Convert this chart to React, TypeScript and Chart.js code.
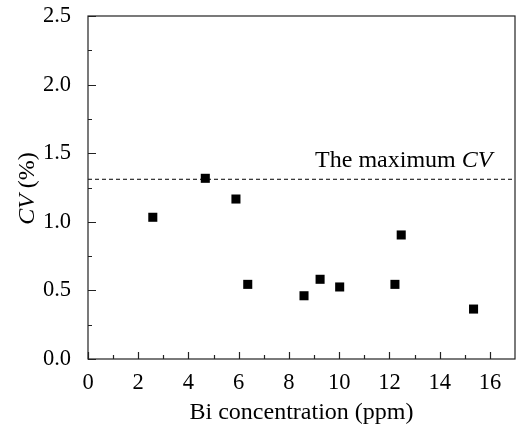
import React, { useEffect, useRef } from 'react';
import { Chart, registerables } from 'chart.js';
Chart.register(...registerables);

const concentration = [2.58, 4.67, 5.89, 6.36, 8.6, 9.24, 10.02, 12.22, 12.47, 15.35];
const cvValues = [1.033, 1.317, 1.166, 0.544, 0.461, 0.581, 0.525, 0.544, 0.904, 0.364];
const maxCV = 1.31;
const xRange = [0, 17];
const yRange = [0, 2.5];
const xTicks = [0, 2, 4, 6, 8, 10, 12, 14, 16];
const xMinorTicks = [1, 3, 5, 7, 9, 11, 13, 15];
const yTicks = [0, 0.5, 1.0, 1.5, 2.0, 2.5];
const yMinorTicks = [0.25, 0.75, 1.25, 1.75, 2.25];
const xTitle = 'Bi concentration (ppm)';
const yTitleItalic = 'CV';
const yTitleRest = ' (%)';
const noteText = 'The maximum ';
const noteItalic = 'CV';

const FONT = 'Liberation Serif';
const TICK_SIZE = 22.5;
const TITLE_SIZE = 24;

const decorPlugin = {
  id: 'decor',
  afterDraw(chart: any) {
    const { ctx, chartArea } = chart;
    const { left, right, top, bottom } = chartArea;
    const xs = chart.scales.x;
    const ys = chart.scales.y;
    ctx.save();
    ctx.strokeStyle = '#222';
    ctx.lineWidth = 1.2;
    ctx.strokeRect(left, top, right - left, bottom - top);
    ctx.beginPath();
    xTicks.forEach((v) => {
      const px = Math.round(xs.getPixelForValue(v)) + 0.5;
      ctx.moveTo(px, bottom);
      ctx.lineTo(px, bottom - 7);
    });
    xMinorTicks.forEach((v) => {
      const px = Math.round(xs.getPixelForValue(v)) + 0.5;
      ctx.moveTo(px, bottom);
      ctx.lineTo(px, bottom - 4);
    });
    yTicks.forEach((v) => {
      const py = Math.round(ys.getPixelForValue(v)) + 0.5;
      ctx.moveTo(left, py);
      ctx.lineTo(left + 8, py);
    });
    yMinorTicks.forEach((v) => {
      const py = Math.round(ys.getPixelForValue(v)) + 0.5;
      ctx.moveTo(left, py);
      ctx.lineTo(left + 4, py);
    });
    ctx.stroke();

    ctx.fillStyle = '#000';
    // x title
    ctx.font = `${TITLE_SIZE}px "${FONT}"`;
    ctx.textAlign = 'center';
    ctx.textBaseline = 'alphabetic';
    ctx.fillText(xTitle, (left + right) / 2, 419);

    // y title
    ctx.save();
    ctx.translate(34, (top + bottom) / 2 + 1);
    ctx.rotate(-Math.PI / 2);
    ctx.font = `italic ${TITLE_SIZE}px "${FONT}"`;
    const wi = ctx.measureText(yTitleItalic).width;
    ctx.font = `${TITLE_SIZE}px "${FONT}"`;
    const wr = ctx.measureText(yTitleRest).width;
    const start = -(wi + wr) / 2;
    ctx.textAlign = 'left';
    ctx.font = `italic ${TITLE_SIZE}px "${FONT}"`;
    ctx.fillText(yTitleItalic, start, 0);
    ctx.font = `${TITLE_SIZE}px "${FONT}"`;
    ctx.fillText(yTitleRest, start + wi, 0);
    ctx.restore();

    // note
    const noteRight = xs.getPixelForValue(16.1);
    const noteY = ys.getPixelForValue(maxCV) - 12;
    ctx.font = `italic ${TITLE_SIZE}px "${FONT}"`;
    const ni = ctx.measureText(noteItalic).width;
    ctx.font = `${TITLE_SIZE}px "${FONT}"`;
    const nt = ctx.measureText(noteText).width;
    ctx.textAlign = 'left';
    ctx.fillText(noteText, noteRight - ni - nt, noteY);
    ctx.font = `italic ${TITLE_SIZE}px "${FONT}"`;
    ctx.fillText(noteItalic, noteRight - ni, noteY);
    ctx.restore();
  },
};

export default function App() {
  const ref = useRef<HTMLCanvasElement>(null);
  useEffect(() => {
    if (!ref.current) return;
    const chart = new Chart(ref.current, {
      type: 'scatter',
      data: {
        datasets: [
          {
            type: 'line',
            data: [
              { x: xRange[0], y: maxCV },
              { x: xRange[1], y: maxCV },
            ],
            borderColor: '#000',
            borderWidth: 1,
            borderDash: [4, 3],
            pointRadius: 0,
            fill: false,
          } as any,
          {
            data: concentration.map((x, i) => ({ x, y: cvValues[i] })),
            pointStyle: 'rect',
            pointRadius: 6.4,
            backgroundColor: '#000',
            borderWidth: 0,
          },
        ],
      },
      options: {
        responsive: false,
        animation: false,
        layout: { autoPadding: false, padding: { top: 16, right: 1, left: 0, bottom: 0 } },
        plugins: { legend: { display: false }, tooltip: { enabled: false } },
        scales: {
          x: {
            type: 'linear',
            min: xRange[0],
            max: xRange[1],
            grid: { display: false },
            border: { display: false },
            afterBuildTicks: (s: any) => {
              s.ticks = xTicks.map((v) => ({ value: v }));
            },
            afterFit: (s: any) => {
              s.height = 70;
              s.paddingLeft = 0;
              s.paddingRight = 0;
            },
            ticks: {
              font: { family: FONT, size: TICK_SIZE },
              color: '#000',
              padding: 3,
              maxRotation: 0,
              autoSkip: false,
              callback: (v: any) => String(v),
            },
          },
          y: {
            type: 'linear',
            min: yRange[0],
            max: yRange[1],
            grid: { display: false },
            border: { display: false },
            afterBuildTicks: (s: any) => {
              s.ticks = yTicks.map((v) => ({ value: v }));
            },
            afterFit: (s: any) => {
              s.width = 88;
              s.paddingTop = 0;
              s.paddingBottom = 0;
            },
            ticks: {
              font: { family: FONT, size: TICK_SIZE },
              color: '#000',
              padding: 9,
              autoSkip: false,
              callback: (v: any) => Number(v).toFixed(1),
            },
          },
        },
      },
      plugins: [decorPlugin],
    });
    return () => chart.destroy();
  }, []);
  return (
    <div style={{ position: 'fixed', left: 0, top: 0, width: 516, height: 429, background: '#fff' }}>
      <canvas ref={ref} width={516} height={429} style={{ display: 'block' }} />
    </div>
  );
}
